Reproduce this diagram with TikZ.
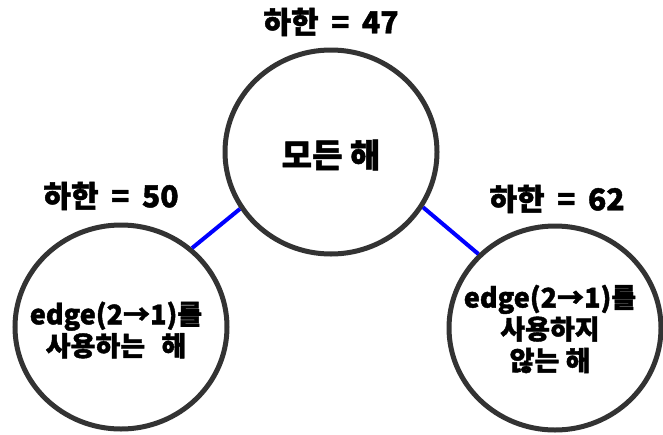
\documentclass[tikz,border=0pt]{standalone}
\usepackage{fontspec}
\setmainfont{Noto Sans CJK KR}[BoldFeatures={FakeBold=1.5}]
\usetikzlibrary{shapes.geometric}
\definecolor{ring}{HTML}{333333}
\definecolor{linkblue}{HTML}{0000FF}
\tikzset{
  sol/.style={ellipse, draw=ring, line width=5pt, minimum width=212pt, minimum height=204pt, inner sep=0pt},
  soltext/.style={inner sep=0pt, align=center, font=\bfseries\fontsize{27}{31.5}\selectfont},
  bigtext/.style={inner sep=0pt, font=\bfseries\fontsize{33}{36}\selectfont},
  bound/.style={font=\bfseries\fontsize{30}{32}\selectfont, inner sep=0pt},
  linkline/.style={draw=linkblue, line width=4pt}
}
\newcommand{\gap}{\hspace{0.42em}}
\begin{document}
\begin{tikzpicture}[x=1pt,y=-1pt]
\useasboundingbox (0,0) rectangle (663,434);
\node[sol] (all) at (331,152) {};
\node[sol] (yes) at (121,327) {};
\node[sol] (no) at (555,328) {};
\node[bigtext] (allt) at (331,155) {모든 해};
\node[soltext] (yest) at (116,330) {edge(2→1)를\\사용하는\hspace{0.6em}해};
\node[soltext] (not) at (550,329) {edge(2→1)를\\사용하지\\않는 해};
\node[bound] (b47) at (331,22) {하한\gap=\gap 47};
\node[bound] (b50) at (111,196) {하한\gap=\gap 50};
\node[bound] (b62) at (557,199) {하한\gap=\gap 62};
\draw[linkline] (all.212) -- (yes.48);
\draw[linkline] (all.329) -- (no.136);
\end{tikzpicture}
\end{document}
